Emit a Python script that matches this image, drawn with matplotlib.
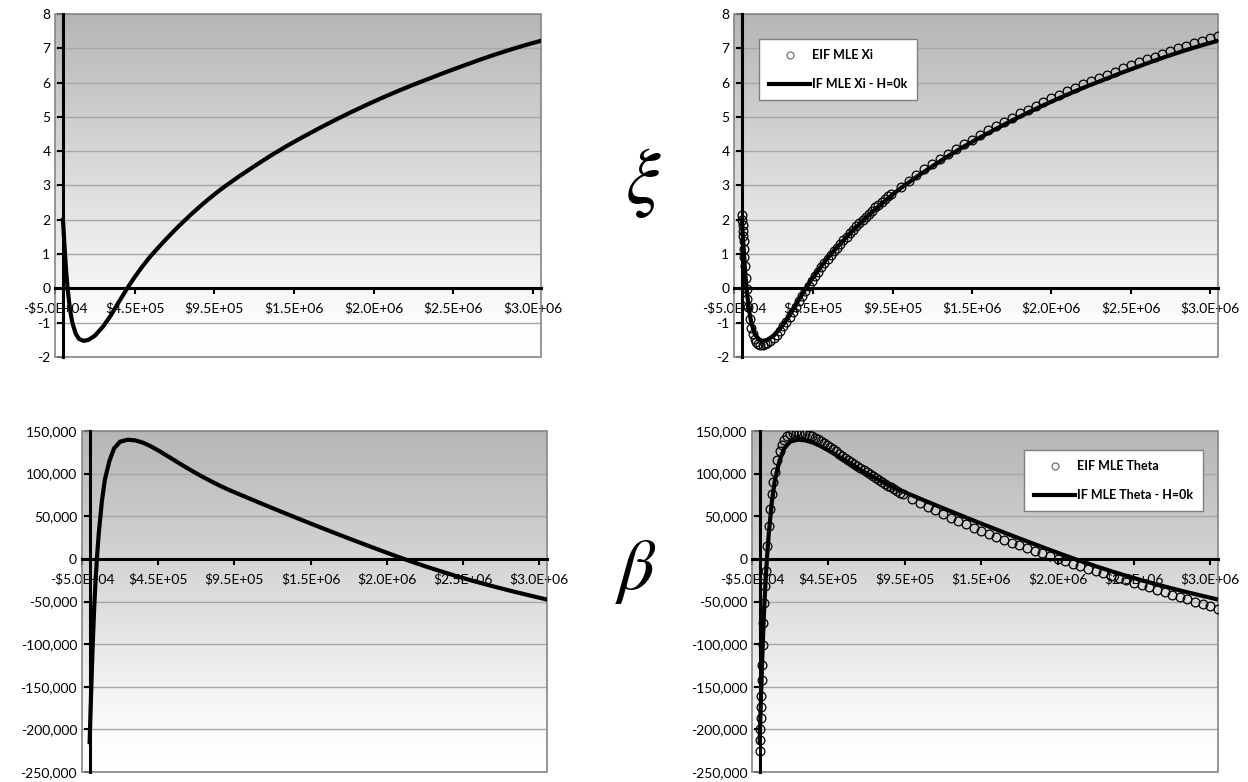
import numpy as np
import matplotlib.pyplot as plt
from matplotlib.colors import LinearSegmentedColormap
from matplotlib.patches import Rectangle

plt.rcParams['font.family'] = ['Lato', 'DejaVu Sans']
plt.rcParams['mathtext.fontset'] = 'stix'

# ---- data (x in thousands of $) ----
# IF curves (solid lines)
x_if = [0, 5, 10, 20, 30, 40, 50, 60, 80, 100,
        130, 160, 200, 250, 300, 350, 400, 450, 500, 550,
        600, 650, 700, 750, 800, 850, 900, 950, 1000, 1100,
        1200, 1300, 1400, 1500, 1600, 1700, 1800, 1900, 2000, 2100,
        2200, 2300, 2400, 2500, 2600, 2700, 2800, 2900, 3000]
if_xi = [2.00, 1.60, 1.20, 0.50, -0.05, -0.45, -0.78, -1.02, -1.32, -1.47,
         -1.53, -1.50, -1.38, -1.12, -0.79, -0.40, -0.02, 0.33, 0.65, 0.94,
         1.20, 1.45, 1.69, 1.92, 2.14, 2.35, 2.55, 2.74, 2.92, 3.25,
         3.56, 3.86, 4.14, 4.40, 4.65, 4.89, 5.12, 5.34, 5.55, 5.75,
         5.94, 6.12, 6.30, 6.47, 6.64, 6.80, 6.95, 7.09, 7.22]
# theta in thousands
if_theta = [-215, -185, -156, -102, -57, -22, 6, 30, 67, 93,
            115, 129.5, 137.5, 139.8, 139, 136.3, 132.2, 127.2, 121.8, 116.3,
            110.8, 105.5, 100.3, 95.4, 90.7, 86.2, 82.0, 78.1, 74.4, 66.9,
            59.5, 52.2, 45.0, 37.9, 30.9, 24.0, 17.2, 10.5, 3.9, -2.5,
            -8.6, -14.4, -19.9, -25.1, -30.0, -34.7, -39.2, -43.5, -47.7]

# EIF points (circles)
x_eif = [0, 2, 4, 6, 8, 10, 13, 16, 20, 25,
         30, 35, 40, 50, 60, 70, 80, 90, 100, 115,
         130, 145, 160, 180, 200, 220, 240, 260, 280,
         300, 320, 340, 360, 380, 400, 420, 440, 460, 480,
         500, 520, 540, 560, 580, 600, 620, 640, 660, 680,
         700, 720, 740, 760, 780, 800, 820, 840, 860, 880,
         900, 920, 940,
         1000, 1050, 1100, 1150, 1200, 1250, 1300, 1350, 1400, 1450,
         1500, 1550, 1600, 1650, 1700, 1750, 1800, 1850, 1900, 1950,
         2000, 2050, 2100, 2150, 2200, 2250, 2300, 2350, 2400, 2450,
         2500, 2550, 2600, 2650, 2700, 2750, 2800, 2850, 2900, 2950,
         3000]
eif_xi = [2.15, 2.00, 1.84, 1.68, 1.52, 1.37, 1.14, 0.92, 0.64, 0.30,
          -0.02, -0.30, -0.54, -0.90, -1.16, -1.34, -1.47, -1.56, -1.61, -1.645,
          -1.65, -1.63, -1.60, -1.53, -1.45, -1.35, -1.24, -1.11, -0.97,
          -0.83, -0.68, -0.53, -0.38, -0.23, -0.08, 0.07, 0.21, 0.35, 0.48,
          0.61, 0.73, 0.85, 0.97, 1.08, 1.19, 1.30, 1.41, 1.51, 1.61,
          1.71, 1.81, 1.91, 2.00, 2.09, 2.18, 2.27, 2.36, 2.44, 2.52,
          2.60, 2.68, 2.75,
          2.97, 3.14, 3.30, 3.47, 3.62, 3.77, 3.92, 4.07, 4.21, 4.34,
          4.47, 4.61, 4.73, 4.85, 4.97, 5.10, 5.21, 5.32, 5.43, 5.55,
          5.65, 5.75, 5.85, 5.96, 6.05, 6.14, 6.23, 6.32, 6.42, 6.51,
          6.59, 6.68, 6.76, 6.84, 6.93, 7.01, 7.08, 7.15, 7.22, 7.29,
          7.35]
eif_theta = [-225, -213, -200, -187, -174, -161, -142, -124, -101, -75,
             -52, -32, -14, 15, 39, 59, 76, 90, 102, 116,
             126, 134, 139.5, 144, 146.5, 147.8, 148.3, 148.2, 147.6,
             146.7, 145.5, 144.0, 142.3, 140.4, 138.3, 136.0, 133.6, 131.1, 128.6,
             126.1, 123.6, 121.1, 118.6, 116.1, 113.6, 111.1, 108.7, 106.3, 103.9,
             101.5, 99.2, 96.9, 94.6, 92.4, 90.2, 88.0, 85.9, 83.8, 81.7,
             79.7, 77.7, 75.7,
             70.0, 65.5, 61.1, 56.8, 52.6, 48.5, 44.5, 40.6, 36.8, 33.1,
             29.5, 26.0, 22.6, 19.2, 15.9, 12.7, 9.5, 6.4, 3.3, 0.3,
             -2.7, -5.6, -8.5, -11.4, -14.2, -17.0, -19.8, -22.5, -25.2, -27.9,
             -30.6, -33.4, -36.2, -39.0, -41.8, -44.6, -47.4, -50.2, -53.0, -55.8,
             -58.6]

x_ticks = [-50, 450, 950, 1450, 1950, 2450, 2950]
x_ticklabels = ['-$5.0E+04', '$4.5E+05', '$9.5E+05', '$1.5E+06',
                '$2.0E+06', '$2.5E+06', '$3.0E+06']
xi_ticks = [-2, -1, 0, 1, 2, 3, 4, 5, 6, 7, 8]
theta_ticks = [-250, -200, -150, -100, -50, 0, 50, 100, 150]
theta_ticklabels = ['-250,000', '-200,000', '-150,000', '-100,000', '-50,000',
                    '0', '50,000', '100,000', '150,000']

# ---- figure ----
W, H = 1248, 782
fig = plt.figure(figsize=(W / 100, H / 100), dpi=100)
GRAD = LinearSegmentedColormap.from_list(
    'excel', [(0, '#ffffff'), (0.12, '#fcfcfc'), (1, '#b6b6b6')])


def make_panel(box, yticks, ylabels):
    l, r, t, b = box
    ax = fig.add_axes([l / W, 1 - b / H, (r - l) / W, (b - t) / H])
    ax.imshow(np.linspace(0, 1, 256).reshape(-1, 1), cmap=GRAD, origin='lower',
              aspect='auto', extent=[0, 1, 0, 1], transform=ax.transAxes, zorder=-2)
    ax.set_xlim(-50, 3000)
    ax.set_ylim(yticks[0], yticks[-1])
    ax.set_xticks(x_ticks)
    ax.set_xticklabels(x_ticklabels, fontweight='bold')
    ax.set_yticks(yticks)
    ax.set_yticklabels(ylabels, fontweight='bold')
    for side in ('top', 'right'):
        ax.spines[side].set_visible(False)
    for side in ('left', 'bottom'):
        ax.spines[side].set_position(('data', 0))
        ax.spines[side].set_linewidth(2.2)
        ax.spines[side].set_zorder(4)
    ax.add_patch(Rectangle((0, 0), 1, 1, transform=ax.transAxes, fill=False,
                           ec='#858585', lw=1.2, zorder=3, clip_on=False))
    ax.grid(axis='y', color='#a6a6a6', lw=1)
    ax.set_axisbelow(True)
    ax.tick_params(axis='x', direction='out', length=4, width=1.5, pad=6, labelsize=10)
    ax.tick_params(axis='y', direction='out', length=4, width=1.5, pad=5, labelsize=10)
    return ax


def add_legend(ax, handles, labels, anchor):
    leg = ax.legend(handles, labels, loc='upper left', bbox_to_anchor=anchor,
                    prop={'size': 9, 'weight': 'bold'}, frameon=True, fancybox=False,
                    edgecolor='#7f7f7f', framealpha=1, borderpad=0.8,
                    labelspacing=1.35, handlelength=3.3, handletextpad=0.1,
                    borderaxespad=0)
    leg.legend_handles[0].set_markeredgecolor('#707070')
    leg.legend_handles[0].set_markersize(5)
    return leg


BOX_TL = (55, 541, 14, 357)
BOX_TR = (734, 1218, 14, 357)
BOX_BL = (82, 547, 431, 772)
BOX_BR = (752, 1218, 431, 772)

MARK = dict(ls='none', marker='o', ms=6.3, mfc='none', mec='black', mew=0.9, zorder=6)

# top-left: IF of xi
ax = make_panel(BOX_TL, xi_ticks, [str(v) for v in xi_ticks])
ax.plot(x_if, if_xi, color='black', lw=3, zorder=5)

# top-right: EIF vs IF of xi
ax = make_panel(BOX_TR, xi_ticks, [str(v) for v in xi_ticks])
h_line, = ax.plot(x_if, if_xi, color='black', lw=3, zorder=5)
h_pts, = ax.plot(x_eif, eif_xi, **MARK)
add_legend(ax, [h_pts, h_line], ['EIF MLE Xi', 'IF MLE Xi - H=0k'], (0.052, 0.927))

# bottom-left: IF of theta
ax = make_panel(BOX_BL, theta_ticks, theta_ticklabels)
ax.plot(x_if, if_theta, color='black', lw=3, zorder=5)

# bottom-right: EIF vs IF of theta
ax = make_panel(BOX_BR, theta_ticks, theta_ticklabels)
h_line, = ax.plot(x_if, if_theta, color='black', lw=3, zorder=5)
h_pts, = ax.plot(x_eif, eif_theta, **MARK)
add_legend(ax, [h_pts, h_line], ['EIF MLE Theta', 'IF MLE Theta - H=0k'], (0.584, 0.944))

# greek parameter labels
fig.text(643 / W, 1 - 183 / H, r'$\xi$', fontsize=56, ha='center', va='center')
fig.text(636 / W, 1 - 572 / H, r'$\beta$', fontsize=52, ha='center', va='center')

fig.savefig('out.png', dpi=100)
